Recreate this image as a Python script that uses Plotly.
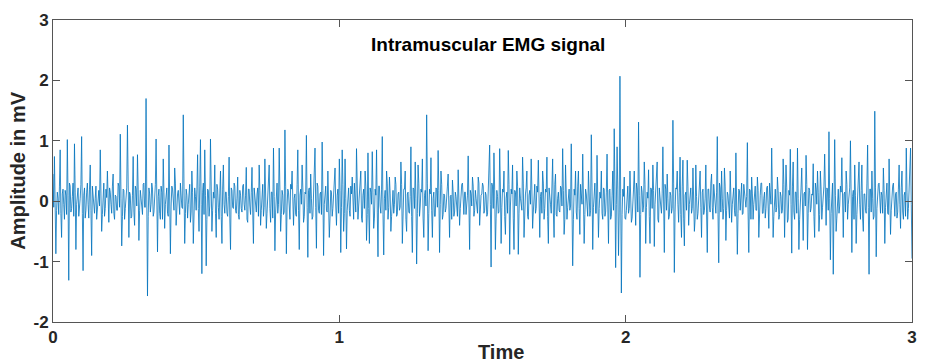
import plotly.graph_objects as go

# Amplitude (mV).
# "amp_rowNN": samples at 0, 0.005, 0.010, ... s (spikes and main swings)
# "mid_rowNN": samples in between, at 0.0025, 0.0075, ... s (the dense core of the trace)
amp_row00 = [0.45, 0.74, -0.87, 0.15, -0.22, 0.85, -0.6, 0.2, -0.3, 0.1, 1.02, -1.31, 0.25, -0.12, 0.3, 0.95, -0.8, 0.18, -0.25, 0.05]
amp_row01 = [1.07, -1.15, 0.22, -0.15, 0.3, -0.28, 0.6, -0.9, 0.12, -0.2, 0.25, -0.1, 0.18, 0.85, -0.5, 0.1, -0.25, 0.2, 0.5, -0.35]
amp_row02 = [0.15, -0.2, 0.45, -0.3, 0.08, -0.15, 0.25, 1.11, -0.74, 0.2, -0.3, 0.15, 1.26, -0.6, 0.1, -0.25, 0.74, -0.4, 0.2, 0.77]
amp_row03 = [-0.65, 0.18, -0.2, 0.28, -0.1, 1.70, -1.57, 0.22, -0.18, 0.3, -0.25, 0.12, 1.03, -0.84, 0.2, -0.3, 0.15, 0.7, -0.45, 0.1]
amp_row04 = [-0.2, 0.93, -0.87, 0.25, -0.15, 0.55, -0.4, 0.12, -0.22, 0.3, -0.1, 1.43, -0.7, 0.2, -0.28, 0.15, -0.35, 0.5, -0.7, 0.22]
amp_row05 = [-0.15, 0.77, -0.5, 1.02, -1.2, 0.3, 0.85, -1.07, 0.2, -0.25, 1.03, -0.5, 0.15, 0.6, -0.6, 0.2, -0.3, 0.5, -0.7, 0.6]
amp_row06 = [-0.2, 0.15, -0.25, 0.73, -0.8, 0.18, -0.12, 0.25, -0.2, 0.4, -0.3, 0.1, -0.18, 0.28, -0.15, 0.56, -0.35, 0.2, -0.22, 0.56]
amp_row07 = [-0.7, 0.12, -0.18, 0.22, 0.6, -0.4, 0.1, -0.25, 0.7, -0.45, 0.2, 0.6, -0.35, 0.15, 0.88, -0.82, 0.25, -0.2, 0.88, -0.5]
amp_row08 = [0.18, -0.22, 1.18, -0.87, 0.2, -0.15, 0.28, 0.5, -0.4, 0.12, -0.25, 0.85, -0.8, 0.2, 0.6, -0.35, 0.15, 1.09, -0.93, 0.22]
amp_row09 = [0.45, -0.3, 0.1, 0.88, -0.78, 0.25, -0.2, 0.15, 0.98, -0.9, 0.2, -0.15, 0.5, -0.6, 0.18, -0.25, 0.12, 0.55, -0.4, 0.2]
amp_row10 = [0.7, -0.85, 0.85, -0.5, 0.7, -0.79, 0.2, -0.15, 0.25, 0.4, -0.3, 0.1, 0.87, -0.3, 0.15, 0.5, -0.35, 0.2, 0.5, -0.65]
amp_row11 = [0.8, -0.7, 0.15, 0.82, -0.45, 0.2, 0.85, -0.92, 0.25, -0.2, 1.07, -0.89, 0.18, 0.5, -0.3, 0.4, -0.5, 0.15, -0.2, 0.4]
amp_row12 = [-0.25, 0.12, -0.15, 0.65, -0.7, 0.2, 0.5, -0.5, 0.15, -0.2, 0.9, -0.85, 0.2, 0.65, -1.04, 0.6, -0.25, 0.2, 0.7, -0.6]
amp_row13 = [0.18, 1.43, -0.82, 0.2, 0.72, -0.6, 0.15, -0.25, 0.2, 0.84, -0.85, 0.5, -0.3, 0.12, -0.18, 0.22, 0.45, -0.6, 0.1, 0.35]
amp_row14 = [-0.25, 0.15, -0.12, 0.52, -0.4, 0.1, 0.3, -0.22, 0.15, -0.1, 0.75, -0.8, 0.12, 0.4, -0.25, 0.18, -0.15, 0.4, -0.4, 0.1]
amp_row15 = [0.3, -0.2, 0.15, -0.25, 0.2, 0.93, -1.09, 0.25, 0.8, -0.8, 0.18, -0.2, 0.87, -0.7, 0.2, 0.5, -0.55, 0.15, 0.84, -0.88]
amp_row16 = [0.2, 0.6, -0.8, 0.15, 0.5, -0.88, 0.22, -0.15, 0.73, -0.6, 0.12, 0.5, -0.3, 0.18, 0.7, -0.45, 0.1, -0.2, 0.25, 0.68]
amp_row17 = [-0.6, 0.15, 0.5, -0.3, 0.2, 0.73, -0.7, 0.12, -0.2, 0.7, -0.6, 0.45, -0.25, 0.15, -0.18, 0.22, 0.87, -0.55, 0.6, -0.3]
amp_row18 = [0.18, -0.15, 0.95, -1.07, 0.2, 0.5, -0.3, 0.5, -0.55, 0.15, 0.78, -0.7, 0.2, -0.2, 0.5, -0.25, 1.1, -0.8, 0.18, -0.2]
amp_row19 = [0.76, -0.6, 0.15, 0.5, -0.3, 0.2, -0.18, 0.78, -0.7, 0.2, -0.25, 0.5, 1.2, -1.1, 0.9, -0.9, 2.07, -1.52, 0.2, 0.4]
amp_row20 = [-0.3, 0.15, -0.2, 0.5, -0.35, 0.12, 0.5, -0.4, 0.2, 1.31, -1.26, 0.25, -0.18, 0.65, -0.7, 0.15, 0.52, -0.7, 0.2, 0.6]
amp_row21 = [-0.75, 0.18, 0.65, -0.35, 0.12, -0.2, 0.9, -0.85, 0.2, 0.45, -0.3, 0.15, -0.2, 1.34, -1.18, 0.22, 0.5, -0.35, 0.73, -0.6]
amp_row22 = [0.68, -0.74, 0.15, 0.68, -0.4, 0.18, -0.2, 0.55, -0.5, 0.6, -0.3, 0.12, 0.5, -0.6, 0.2, -0.15, 0.6, -0.85, 0.2, -0.18]
amp_row23 = [0.45, -0.3, 0.15, -0.2, 1.07, -1.02, 0.22, 0.5, -0.3, 0.55, -0.65, 0.15, -0.2, 0.5, -0.35, 0.12, -0.15, 0.8, -0.88, 0.2]
amp_row24 = [-0.15, 0.3, -0.2, 0.15, -0.1, 0.97, -0.85, 0.18, 0.4, -0.3, 0.12, -0.15, 0.4, -0.6, 0.1, 0.3, -0.2, 0.15, -0.12, 0.25]
amp_row25 = [-0.45, 0.12, 0.88, -0.6, 0.2, -0.18, 0.4, -0.3, 0.15, -0.2, 0.7, -0.6, 0.6, -0.35, 0.18, 0.86, -0.86, 0.65, -0.3, 0.15]
amp_row26 = [0.88, -0.8, 0.2, 0.55, -0.65, 0.15, 0.76, -0.8, 0.22, -0.18, 0.12, 0.62, -0.6, 0.2, 0.5, -0.5, 0.5, -0.3, 0.15, 0.78]
amp_row27 = [-0.4, 0.2, 1.15, -0.97, 0.2, -1.21, 1.02, -0.5, 0.18, -0.2, 0.25, 0.72, -0.6, 0.15, 0.5, -0.3, 0.2, 1.0, -0.85, 0.18]
amp_row28 = [0.6, -0.7, 0.15, 0.65, -0.3, 0.6, -0.5, 0.12, -0.2, 0.93, -1.21, 0.2, 0.5, -0.3, 1.49, -0.92, 0.18, 0.3, -0.2, 0.1]
amp_row29 = [0.55, -0.7, 0.15, -0.2, 0.7, -0.55, 0.12, 0.3, -0.25, 0.15, -0.18, 0.6, -0.45, 0.5, -0.3, 0.15, 0.88, -0.3, 0.2, 0.88, -0.95]

mid_row00 = [-0.1, 0.2, -0.15, 0.05, 0.25, -0.2, 0.12, -0.05, 0.18, -0.22, 0.1, 0.3, -0.18, 0.08, -0.25, 0.15, -0.05, 0.22, -0.12, 0.28]
mid_row01 = [-0.2, 0.1, -0.28, 0.15, -0.05, 0.2, -0.15, 0.25, -0.1, 0.05, -0.3, 0.18, -0.08, 0.12, -0.22, 0.3, -0.12, 0.06, -0.18, 0.22]
mid_row02 = [-0.05, 0.25, -0.2, 0.1, -0.15, 0.3, -0.1, 0.05, -0.25, 0.18, -0.12, 0.22, -0.05, 0.15, -0.28, 0.1, -0.18, 0.25, -0.08, 0.2]
mid_row03 = [-0.15, 0.05, -0.22, 0.3, -0.1, 0.18, -0.25, 0.12, -0.05, 0.2, -0.18, 0.28, -0.12, 0.08, -0.2, 0.25, -0.3, 0.15, -0.05, 0.22]
mid_row04 = [-0.25, 0.12, -0.08, 0.2, -0.15, 0.3, -0.1, 0.18, -0.22, 0.05, -0.12, 0.25, -0.2, 0.1, -0.05, 0.28, -0.18, 0.15, -0.25, 0.08]
mid_row05 = [0.2, -0.12, 0.25, -0.05, 0.15, -0.22, 0.1, -0.3, 0.18, -0.08, 0.22, -0.15, 0.05, -0.2, 0.28, -0.1, 0.12, -0.25, 0.2, -0.05]
mid_row06 = [0.15, -0.2, 0.08, -0.28, 0.22, -0.1, 0.3, -0.15, 0.05, -0.22, 0.18, -0.12, 0.25, -0.05, 0.1, -0.3, 0.2, -0.08, 0.15, -0.18]
mid_row07 = [0.22, -0.05, 0.12, -0.25, 0.18, -0.15, 0.28, -0.1, 0.05, -0.2, 0.25, -0.12, 0.15, -0.28, 0.08, -0.18, 0.3, -0.05, 0.2, -0.22]
mid_row08 = [0.1, -0.18, 0.25, -0.08, 0.15, -0.3, 0.2, -0.12, 0.05, -0.22, 0.28, -0.15, 0.1, -0.05, 0.22, -0.25, 0.12, -0.1, 0.18, -0.2]
mid_row09 = [0.05, -0.25, 0.2, -0.1, 0.3, -0.15, 0.12, -0.22, 0.18, -0.05, 0.25, -0.18, 0.08, -0.28, 0.15, -0.12, 0.22, -0.08, 0.1, -0.2]
mid_row10 = [0.18, -0.1, 0.28, -0.2, 0.05, -0.15, 0.22, -0.25, 0.12, -0.05, 0.3, -0.18, 0.15, -0.08, 0.2, -0.28, 0.1, -0.12, 0.25, -0.22]
mid_row11 = [-0.12, 0.22, -0.05, 0.15, -0.28, 0.1, -0.18, 0.25, -0.08, 0.2, -0.22, 0.05, -0.15, 0.3, -0.1, 0.12, -0.25, 0.18, -0.05, 0.28]
mid_row12 = [-0.22, 0.15, -0.1, 0.28, -0.05, 0.2, -0.3, 0.12, -0.18, 0.08, -0.25, 0.22, -0.12, 0.05, -0.2, 0.3, -0.08, 0.15, -0.28, 0.1]
mid_row13 = [-0.08, 0.3, -0.2, 0.12, -0.15, 0.05, -0.25, 0.22, -0.1, 0.18, -0.05, 0.28, -0.22, 0.1, -0.12, 0.25, -0.18, 0.08, -0.3, 0.15]
mid_row14 = [-0.18, 0.08, -0.25, 0.2, -0.12, 0.28, -0.05, 0.15, -0.22, 0.1, -0.3, 0.18, -0.08, 0.25, -0.15, 0.05, -0.2, 0.3, -0.1, 0.12]
mid_row15 = [0.25, -0.15, 0.1, -0.22, 0.18, -0.05, 0.3, -0.12, 0.2, -0.28, 0.08, -0.18, 0.22, -0.1, 0.15, -0.25, 0.05, -0.2, 0.28, -0.08]
mid_row16 = [0.12, -0.28, 0.18, -0.08, 0.25, -0.2, 0.05, -0.15, 0.3, -0.1, 0.22, -0.25, 0.1, -0.05, 0.2, -0.18, 0.28, -0.12, 0.15, -0.22]
mid_row17 = [0.08, -0.2, 0.3, -0.12, 0.15, -0.25, 0.22, -0.05, 0.1, -0.18, 0.28, -0.22, 0.05, -0.15, 0.25, -0.08, 0.18, -0.3, 0.12, -0.1]
mid_row18 = [0.2, -0.08, 0.15, -0.3, 0.1, -0.18, 0.25, -0.12, 0.28, -0.05, 0.18, -0.22, 0.12, -0.25, 0.05, -0.15, 0.22, -0.1, 0.3, -0.2]
mid_row19 = [0.28, -0.12, 0.05, -0.2, 0.22, -0.25, 0.15, -0.08, 0.18, -0.3, 0.1, -0.15, 0.25, -0.05, 0.2, -0.18, 0.12, -0.22, 0.08, -0.28]
mid_row20 = [-0.15, 0.25, -0.12, 0.08, -0.28, 0.2, -0.05, 0.3, -0.18, 0.1, -0.22, 0.15, -0.08, 0.28, -0.1, 0.05, -0.25, 0.22, -0.12, 0.18]
mid_row21 = [-0.05, 0.18, -0.3, 0.22, -0.08, 0.12, -0.2, 0.28, -0.15, 0.05, -0.25, 0.1, -0.12, 0.3, -0.18, 0.2, -0.05, 0.15, -0.22, 0.25]
mid_row22 = [-0.28, 0.1, -0.15, 0.25, -0.05, 0.22, -0.12, 0.18, -0.3, 0.08, -0.2, 0.28, -0.1, 0.15, -0.22, 0.05, -0.18, 0.2, -0.08, 0.3]
mid_row23 = [-0.1, 0.28, -0.08, 0.15, -0.22, 0.3, -0.18, 0.05, -0.12, 0.25, -0.15, 0.1, -0.28, 0.2, -0.05, 0.22, -0.25, 0.12, -0.2, 0.18]
mid_row24 = [0.15, -0.22, 0.28, -0.1, 0.08, -0.18, 0.2, -0.3, 0.12, -0.05, 0.25, -0.15, 0.18, -0.12, 0.3, -0.2, 0.05, -0.28, 0.22, -0.08]
mid_row25 = [0.3, -0.05, 0.12, -0.25, 0.2, -0.1, 0.18, -0.22, 0.08, -0.15, 0.28, -0.12, 0.22, -0.3, 0.1, -0.05, 0.25, -0.18, 0.15, -0.2]
mid_row26 = [0.05, -0.3, 0.22, -0.15, 0.12, -0.08, 0.28, -0.2, 0.18, -0.12, 0.1, -0.25, 0.3, -0.05, 0.15, -0.22, 0.2, -0.1, 0.25, -0.18]
mid_row27 = [0.22, -0.15, 0.05, -0.2, 0.3, -0.12, 0.1, -0.28, 0.2, -0.08, 0.15, -0.25, 0.12, -0.18, 0.28, -0.05, 0.22, -0.1, 0.08, -0.3]
mid_row28 = [0.1, -0.22, 0.25, -0.05, 0.18, -0.28, 0.12, -0.15, 0.3, -0.1, 0.2, -0.18, 0.05, -0.25, 0.22, -0.12, 0.28, -0.08, 0.15, -0.2]
mid_row29 = [0.18, -0.1, 0.3, -0.22, 0.05, -0.15, 0.25, -0.08, 0.12, -0.28, 0.2, -0.05, 0.22, -0.18, 0.1, -0.25, 0.15, -0.12, 0.28, -0.05]

amp_main = (amp_row00 + amp_row01 + amp_row02 + amp_row03 + amp_row04 + amp_row05 +
            amp_row06 + amp_row07 + amp_row08 + amp_row09 + amp_row10 + amp_row11 +
            amp_row12 + amp_row13 + amp_row14 + amp_row15 + amp_row16 + amp_row17 +
            amp_row18 + amp_row19 + amp_row20 + amp_row21 + amp_row22 + amp_row23 +
            amp_row24 + amp_row25 + amp_row26 + amp_row27 + amp_row28 + amp_row29)
amp_mid = (mid_row00 + mid_row01 + mid_row02 + mid_row03 + mid_row04 + mid_row05 +
           mid_row06 + mid_row07 + mid_row08 + mid_row09 + mid_row10 + mid_row11 +
           mid_row12 + mid_row13 + mid_row14 + mid_row15 + mid_row16 + mid_row17 +
           mid_row18 + mid_row19 + mid_row20 + mid_row21 + mid_row22 + mid_row23 +
           mid_row24 + mid_row25 + mid_row26 + mid_row27 + mid_row28 + mid_row29)

# merge the two typed sample sets in time order
amplitude = []
for a, m in zip(amp_main, amp_mid):
    amplitude += [a, m]
amplitude += amp_main[len(amp_mid):]
sample_step = 0.0025
time = [round(i * sample_step, 5) for i in range(len(amplitude))]

x_ticks = [0, 1, 2, 3]
y_ticks = [-2, -1, 0, 1, 2, 3]

FONT = "Liberation Sans, Arial, sans-serif"
AX = "#555555"
TXT = "#262626"

fig = go.Figure()
fig.add_trace(go.Scatter(x=time, y=amplitude, mode="lines",
                         line=dict(color="#0072BD", width=0.8), showlegend=False,
                         hoverinfo="skip"))

axis_common = dict(showgrid=False, zeroline=False, showline=True, linecolor=AX,
                   linewidth=1, mirror="ticks", ticks="inside", ticklen=7,
                   tickcolor=AX, tickwidth=1,
                   tickfont=dict(family=FONT, size=17, color=TXT))

fig.update_xaxes(range=[0, 3], tickvals=x_ticks, ticktext=[f"<b>{v}</b>" for v in x_ticks],
                 **axis_common)
fig.update_yaxes(range=[-2, 3], tickvals=y_ticks, ticktext=[f"<b>{v}</b>" for v in y_ticks],
                 **axis_common)

fig.add_annotation(text="<b>Intramuscular EMG signal</b>", xref="paper", yref="paper",
                   x=0.506, y=0.92, xanchor="center", yanchor="middle", showarrow=False,
                   font=dict(family=FONT, size=19, color="#000000"))
fig.add_annotation(text="<b>Time</b>", xref="paper", yref="paper",
                   x=0.521, y=-0.098, xanchor="center", yanchor="middle", showarrow=False,
                   font=dict(family=FONT, size=20, color=TXT))
fig.add_annotation(text="<b>Amplitude in mV</b>", xref="paper", yref="paper",
                   x=-0.041, y=0.5, xanchor="center", yanchor="middle",
                   textangle=-90, showarrow=False,
                   font=dict(family=FONT, size=20, color=TXT))

fig.update_layout(width=928, height=362,
                  margin=dict(l=53, r=11, t=17, b=40, pad=0),
                  paper_bgcolor="white", plot_bgcolor="white")

fig.write_html("out.html")
